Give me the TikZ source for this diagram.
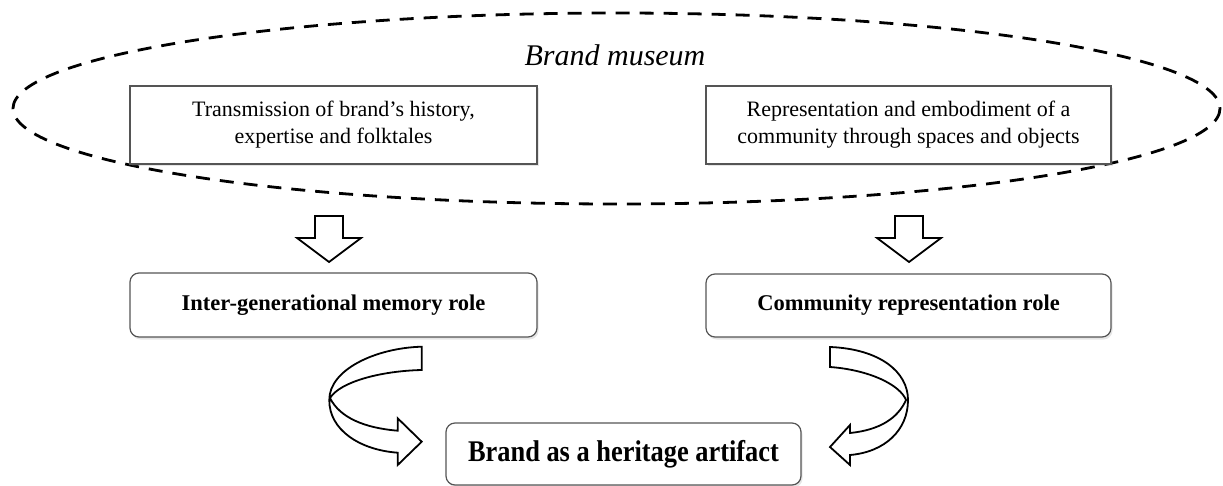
\documentclass[tikz,border=0pt]{standalone}
\usepackage{fontspec}
\setmainfont{Liberation Serif}
\newfontfamily\heritagefont[FakeStretch=0.88]{Liberation Serif}
\usepackage{xcolor}
\definecolor{rahmen_grau}{RGB}{85,85,85}
\usepackage{tikz}
\usetikzlibrary{shadows}

\begin{document}
\begin{tikzpicture}[x=1pt,y=-1pt,
  textbox/.style={draw=rahmen_grau, line width=1.2pt, fill=white, inner sep=0pt, align=center,
    font=\fontsize{22}{27}\selectfont,
    drop shadow={shadow xshift=1.5pt, shadow yshift=-2.5pt, opacity=0.2}},
  rolebox/.style={textbox, rounded corners=9pt, font=\fontsize{22.5}{27}\selectfont\bfseries},
  blockarr/.style={draw=black, line width=1.8pt, fill=white, line join=miter},
  museumrand/.style={draw=black, line width=2.8pt, dash pattern=on 14pt off 10pt}]
\useasboundingbox (0,0) rectangle (1223,486);

% ---
\draw[museumrand] (616.5,108.5) ellipse [x radius=603.5, y radius=95.5];
\node (Museum) at (615,55) {\fontsize{30}{36}\selectfont\itshape Brand museum};

% ---
\node[textbox, minimum width=407pt, minimum height=78pt] (Trans) at (333.5,125)
  {Transmission of brand's history,\\expertise and folktales};
\node[textbox, minimum width=405pt, minimum height=78pt] (Repr) at (908.5,125)
  {Representation and embodiment of a\\community through spaces and objects};

% ---
\coordinate (ArrL) at (329,216);
\draw[blockarr] (ArrL) ++(-14,0) -- ++(28,0) -- ++(0,22) -- ++(18,0) -- ++(-32,24) -- ++(-32,-24) -- ++(18,0) -- cycle;
\coordinate (ArrR) at (909,216);
\draw[blockarr] (ArrR) ++(-14,0) -- ++(28,0) -- ++(0,22) -- ++(18,0) -- ++(-32,24) -- ++(-32,-24) -- ++(18,0) -- cycle;

% ---
\node[rolebox, minimum width=407pt, minimum height=64pt] (Inter) at (333.5,305)
  {Inter-generational memory role};
\node[rolebox, minimum width=405pt, minimum height=63pt] (Comm) at (908.5,305.5)
  {Community representation role};

% ---
\draw[blockarr] (421.7,346.7) .. controls (375,348) and (329,370) .. (329.3,400)
  .. controls (329,430) and (360,450) .. (397.7,452.7) -- (397.7,465) -- (421.7,441.7)
  -- (397.7,418.3) -- (397.7,430.7) .. controls (365,428) and (340,418) .. (330,398)
  .. controls (340,382) and (380,371) .. (421.7,370) -- cycle;
\draw[blockarr] (830,347) .. controls (880,349) and (908,372) .. (908,400)
  .. controls (908,430) and (885,452) .. (850,455) -- (850,465) -- (830,447)
  -- (850,425) -- (850,433) .. controls (880,430) and (898,418) .. (906,400)
  .. controls (900,385) and (870,370) .. (830,367) -- cycle;

% ---
\node[textbox, rounded corners=9pt, minimum width=355pt, minimum height=62pt,
  font=\heritagefont\bfseries\fontsize{30}{36}\selectfont] (Heritage) at (623.5,454)
  {Brand as a heritage artifact};

\end{tikzpicture}
\end{document}
